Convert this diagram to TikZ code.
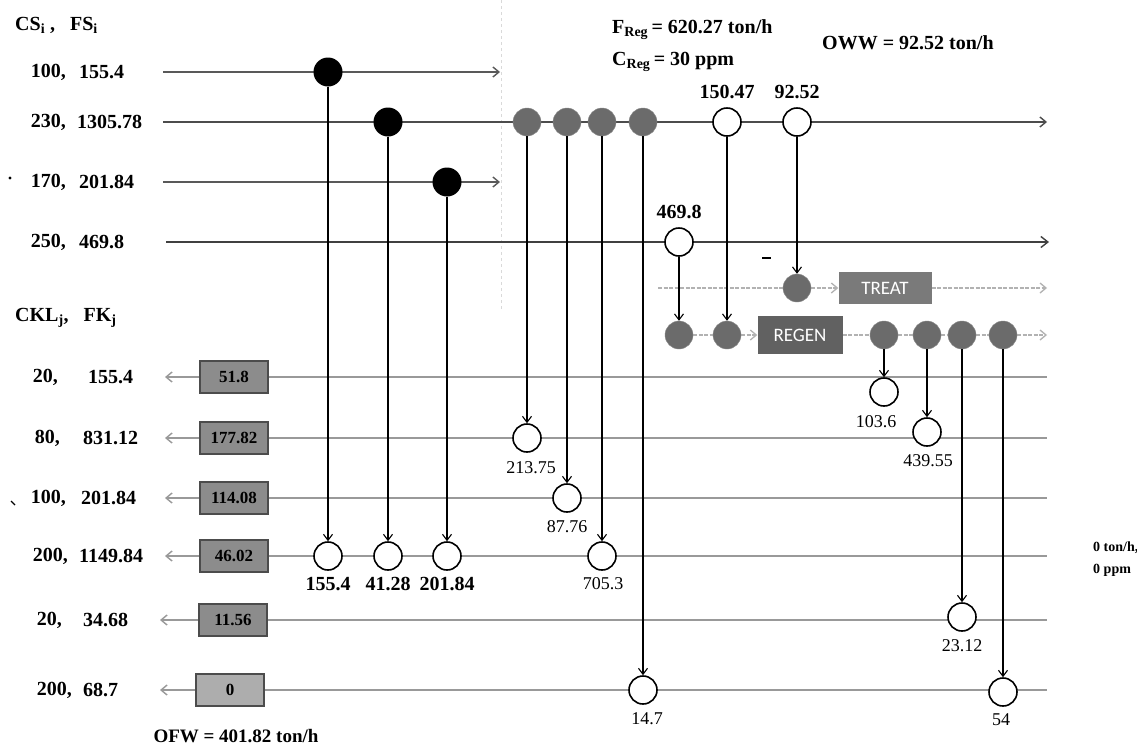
\documentclass[tikz,border=0pt]{standalone}
\usepackage{fontspec}
\setmainfont{Liberation Serif}
\newfontfamily\calfont{Carlito}
\usetikzlibrary{arrows.meta,backgrounds}
\begin{document}
\begin{tikzpicture}[x=1pt,y=-1pt,
  lbl/.style={font=\fontsize{20}{23}\selectfont\bfseries, inner sep=0pt},
  hdr/.style={font=\fontsize{20}{23}\selectfont\bfseries, inner sep=0pt},
  reg/.style={font=\fontsize{18}{21}\selectfont, inner sep=0pt},
  blackdot/.style={circle, fill=black, minimum size=29pt, inner sep=0pt},
  greydot/.style={circle, fill=black!58, draw=black!45, minimum size=28pt, inner sep=0pt},
  opencirc/.style={circle, draw=black, line width=1.6pt, fill=white, minimum size=28pt, inner sep=0pt},
  sinkbox/.style={draw=black!70, line width=1.2pt, fill=black!45, minimum width=68pt, minimum height=32pt, inner sep=0pt, font=\fontsize{17}{20}\selectfont\bfseries},
  procbox/.style={fill=black!#1, text=white, inner sep=0pt, font=\calfont\fontsize{19}{22}\selectfont},
  srcline/.style={draw=black!75, line width=1.4pt},
  sinkline/.style={draw=black!40, line width=1.4pt},
  greyline/.style={draw=black!30, line width=1.3pt, dash pattern=on 4pt off 1.5pt},
  greyarrow/.style={-{Straight Barb[length=6pt,width=10pt]}},
  conn/.style={draw=black, line width=1.1pt, -{Straight Barb[length=6pt,width=9pt]}}
]
\useasboundingbox (0,0) rectangle (1137,748);

% ---------- headers and labels ----------
\node[hdr, anchor=west] (hs) at (15,25) {CS\textsubscript{i} ,\ \ \ FS\textsubscript{i}};
\node[hdr, anchor=west] (hk) at (15,318) {CKL\textsubscript{j},\ \ \ FK\textsubscript{j}};

\node[lbl, anchor=east] (l1a) at (66,72) {100,};  \node[lbl, anchor=west] (l1b) at (79,72) {155.4};
\node[lbl, anchor=east] (l2a) at (66,122) {230,}; \node[lbl, anchor=west] (l2b) at (77,122) {1305.78};
\node[lbl, anchor=east] (l3a) at (66,182) {170,}; \node[lbl, anchor=west] (l3b) at (79,182) {201.84};
\node[lbl, anchor=east] (l4a) at (66,242) {250,}; \node[lbl, anchor=west] (l4b) at (79,242) {469.8};
\fill (10,178) circle (1.6);

\node[lbl, anchor=east] (kAa) at (58,377) {20,};  \node[lbl, anchor=west] (kAb) at (88,377) {155.4};
\node[lbl, anchor=east] (kBa) at (60,438) {80,};  \node[lbl, anchor=west] (kBb) at (83,438) {831.12};
\node[lbl, anchor=east] (kCa) at (66,498) {100,}; \node[lbl, anchor=west] (kCb) at (81,498) {201.84};
\node[lbl, anchor=east] (kDa) at (68,556) {200,}; \node[lbl, anchor=west] (kDb) at (79,556) {1149.84};
\node[lbl, anchor=east] (kEa) at (62,620) {20,};  \node[lbl, anchor=west] (kEb) at (83,620) {34.68};
\node[lbl, anchor=east] (kFa) at (72,690) {200,}; \node[lbl, anchor=west] (kFb) at (83,690) {68.7};
\draw[line width=1.2pt] (11,501) -- (15,505);

\node[hdr, anchor=west] (freg) at (612,30) {F\textsubscript{Reg}\,= 620.27 ton/h};
\node[hdr, anchor=west] (creg) at (612,62) {C\textsubscript{Reg}\,= 30 ppm};
\node[hdr, anchor=west] (oww) at (822,43) {OWW\ = 92.52 ton/h};
\node[font=\fontsize{14}{17}\selectfont\bfseries, inner sep=0pt, anchor=west] (zt) at (1093,548) {0 ton/h,};
\node[font=\fontsize{14}{17}\selectfont\bfseries, inner sep=0pt, anchor=west] (zp) at (1093,570) {0 ppm};
\node[font=\fontsize{19}{22}\selectfont\bfseries, inner sep=0pt] (ofw) at (236,736) {OFW = 401.82 ton/h};

% ---------- source side nodes ----------
\coordinate (s1) at (163,72);  \coordinate (e1) at (500,72);
\coordinate (s2) at (163,122); \coordinate (e2) at (1047,122);
\coordinate (s3) at (163,182); \coordinate (e3) at (500,182);
\coordinate (s4) at (166,242); \coordinate (e4) at (1049,242);

\node[blackdot] (bd1) at (328,72) {};
\node[blackdot] (bd2) at (388,122) {};
\node[blackdot] (bd3) at (447,182) {};

\node[greydot] (gd1) at (527,122) {};
\node[greydot] (gd2) at (567,122) {};
\node[greydot] (gd3) at (602,122) {};
\node[greydot] (gd4) at (643,122) {};

\node[opencirc] (c15047) at (727,122) {};
\node[lbl, above=8pt] (t15047) at (c15047.north) {150.47};
\node[opencirc] (c9252) at (797,122) {};
\node[lbl, above=8pt] (t9252) at (c9252.north) {92.52};
\node[opencirc] (c4698) at (679,242) {};
\node[lbl, above=8pt] (t4698) at (c4698.north) {469.8};
\draw[line width=2pt] (762,258) -- (771,258);

% treat / regen
\coordinate (t0) at (658,288); \coordinate (t1) at (1047,288);
\node[greydot] (td) at (797,288) {};
\node[procbox=52, minimum width=93pt, minimum height=32pt] (treat) at (885,288) {TREAT};
\coordinate (r1) at (1047,335);
\node[greydot] (rd1) at (679,335) {};
\node[greydot] (rd2) at (727,335) {};
\node[procbox=62, minimum width=85pt, minimum height=38pt] (regen) at (800,335) {REGEN};
\node[greydot] (rd3) at (884,335) {};
\node[greydot] (rd4) at (927,335) {};
\node[greydot] (rd5) at (962,335) {};
\node[greydot] (rd6) at (1003,335) {};

% ---------- sink side ----------
\node[sinkbox] (bA) at (234,377) {51.8};
\node[sinkbox] (bB) at (234,438) {177.82};
\node[sinkbox] (bC) at (234,498) {114.08};
\node[sinkbox] (bD) at (234,556) {46.02};
\node[sinkbox] (bE) at (233,620) {11.56};
\node[sinkbox, fill=black!32] (bF) at (230,690) {0};
\coordinate (aA) at (165,377); \coordinate (eA) at (1047,377);
\coordinate (aB) at (165,438); \coordinate (eB) at (1047,438);
\coordinate (aC) at (165,498); \coordinate (eC) at (1047,498);
\coordinate (aD) at (165,556); \coordinate (eD) at (1047,556);
\coordinate (aE) at (160,620); \coordinate (eE) at (1047,620);
\coordinate (aF) at (160,690); \coordinate (eF) at (1047,690);

\node[opencirc] (c1554) at (328,556) {};
\node[lbl, below=6pt] at (c1554.south) {155.4};
\node[opencirc] (c4128) at (388,556) {};
\node[lbl, below=6pt] at (c4128.south) {41.28};
\node[opencirc] (c20184) at (447,556) {};
\node[lbl, below=6pt] at (c20184.south) {201.84};
\node[opencirc] (c21375) at (527,438) {};
\node[reg] at (531,468) {213.75};
\node[opencirc] (c8776) at (567,498) {};
\node[reg] at (567,527) {87.76};
\node[opencirc] (c7053) at (602,556) {};
\node[reg] at (603,584) {705.3};
\node[opencirc] (c147) at (643,690) {};
\node[reg] at (647,719) {14.7};
\node[opencirc] (c1036) at (884,392) {};
\node[reg] at (876,422) {103.6};
\node[opencirc] (c43955) at (927,432) {};
\node[reg] at (928,461) {439.55};
\node[opencirc] (c2312) at (962,617) {};
\node[reg] at (962,646) {23.12};
\node[opencirc] (c54) at (1003,692) {};
\node[reg] at (1001,720) {54};

% ---------- connectors on background ----------
\begin{scope}[on background layer]
  \fill[white] (0,0) rectangle (1137,748);
  \draw[black!15, line width=0.8pt, dashed] (501,0) -- (501,310);
  \draw[srcline, draw=black!65, greyarrow] (s1) -- (e1);
  \draw[srcline, greyarrow, draw=black!70] (s2) -- (e2);
  \draw[srcline, draw=black!65, greyarrow] (s3) -- (e3);
  \draw[srcline, -{Straight Barb[length=7pt,width=11pt]}] (s4) -- (e4);
  % treat and regen lines
  \draw[greyline] (t0) -- (td);
  \draw[greyline, greyarrow] (td) -- (treat);
  \draw[greyline, greyarrow] (treat) -- (t1);
  \draw[greyline] (rd1) -- (rd2);
  \draw[greyline, greyarrow] (rd2) -- (regen);
  \draw[greyline] (regen) -- (rd3) -- (rd4) -- (rd5) -- (rd6);
  \draw[greyline, greyarrow] (rd6) -- (r1);
  % sink lines
  \foreach \r in {A,B,C,D,E,F} {
    \draw[sinkline] (b\r) -- (e\r);
    \draw[sinkline, greyarrow] (b\r) -- (a\r);
  }
\end{scope}

% vertical connectors
\draw[conn] (bd1) -- (c1554);
\draw[conn] (bd2) -- (c4128);
\draw[conn] (bd3) -- (c20184);
\draw[conn] (gd1) -- (c21375);
\draw[conn] (gd2) -- (c8776);
\draw[conn] (gd3) -- (c7053);
\draw[conn] (gd4) -- (c147);
\draw[conn] (c4698) -- (rd1);
\draw[conn] (c15047) -- (rd2);
\draw[conn] (c9252) -- (td);
\draw[conn] (rd3) -- (c1036);
\draw[conn] (rd4) -- (c43955);
\draw[conn] (rd5) -- (c2312);
\draw[conn] (rd6) -- (c54);
\end{tikzpicture}
\end{document}
